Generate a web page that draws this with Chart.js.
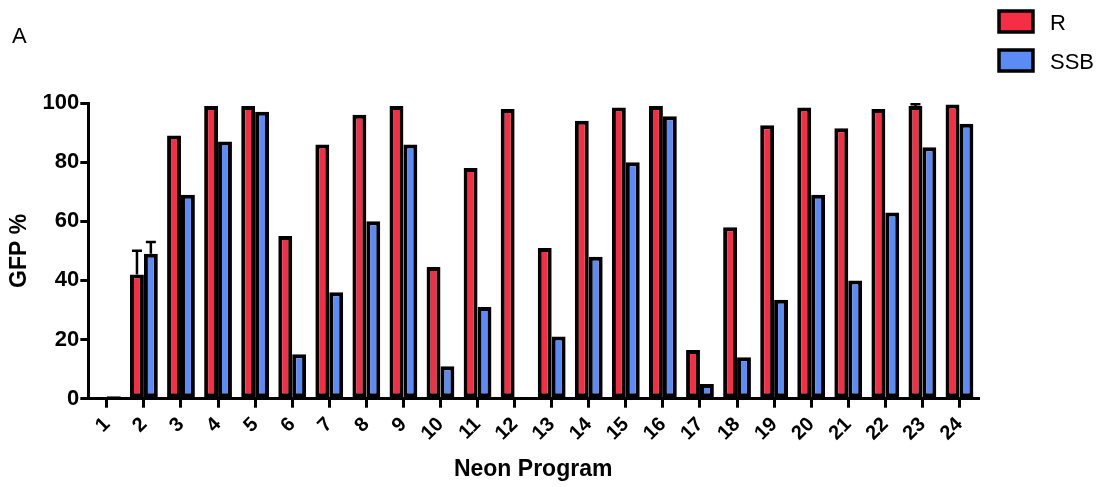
<!DOCTYPE html>
<html>
<head>
<meta charset="utf-8">
<script src="https://cdn.jsdelivr.net/npm/chart.js@4"></script>
<style>
  html, body { margin: 0; padding: 0; background: #fff; }
  #wrap { width: 1103px; height: 487px; }
</style>
</head>
<body>
<div id="wrap"><canvas id="gfpChart" width="1103" height="487"></canvas></div>
<script>
// Neon programs on the x axis
const programs = ['1','2','3','4','5','6','7','8','9','10','11','12',
                  '13','14','15','16','17','18','19','20','21','22','23','24'];

// GFP % per program
const rValues   = [0.4, 42, 89, 99, 99, 55, 86, 96, 99, 44.5, 78, 98,
                   51, 94, 98.5, 99, 16.5, 58, 92.5, 98.5, 91.5, 98, 99, 99.5];
const ssbValues = [0.8, 49, 69, 87, 97, 15, 36, 60, 86, 11, 31, 0,
                   21, 48, 80, 95.5, 5, 14, 33.5, 69, 40, 63, 85, 93];

// upper error (only a few are visible)
const rErrors   = [0, 8, 0, 0, 0, 0, 0, 0, 0, 0, 0, 0,
                   0, 0, 0, 0, 0, 0, 0, 0, 0, 0, 0.6, 0];
const ssbErrors = [0, 4, 0, 0, 0, 0, 0, 0, 0, 0, 0, 0,
                   0, 0, 0, 0, 0, 0, 0, 0, 0, 0, 0, 0];

const yTicks = [0, 20, 40, 60, 80, 100];

const fontFamily = "'Liberation Sans', Arial, Helvetica, sans-serif";

// draws the upper error bars with a cap
const errorBars = {
    id: 'errorBars',
    afterDatasetsDraw(chart) {
        const ctx = chart.ctx;
        const yScale = chart.scales.y;
        chart.data.datasets.forEach((ds, i) => {
            const meta = chart.getDatasetMeta(i);
            ds.errors.forEach((err, j) => {
                if (!err) return;
                const bar = meta.data[j];
                const yTop = yScale.getPixelForValue(ds.data[j] + err);
                ctx.save();
                ctx.strokeStyle = '#000';
                ctx.lineWidth = 2.5;
                ctx.beginPath();
                ctx.moveTo(bar.x, bar.y);
                ctx.lineTo(bar.x, yTop);
                ctx.moveTo(bar.x - 5, yTop);
                ctx.lineTo(bar.x + 5, yTop);
                ctx.stroke();
                ctx.restore();
            });
        });
    }
};

// panel letter and the legend in the top right corner
const panelDecor = {
    id: 'panelDecor',
    afterDraw(chart) {
        const ctx = chart.ctx;
        ctx.save();
        ctx.fillStyle = '#000';
        ctx.font = '22px ' + fontFamily;
        ctx.textBaseline = 'alphabetic';
        ctx.fillText('A', 12, 43);

        chart.data.datasets.forEach((ds, i) => {
            const top = 11 + i * 39;
            ctx.fillStyle = ds.backgroundColor;
            ctx.fillRect(999, top, 34, 21);
            ctx.lineWidth = 3.5;
            ctx.strokeStyle = '#000';
            ctx.strokeRect(999, top, 34, 21);
            ctx.fillStyle = '#000';
            ctx.font = '22px ' + fontFamily;
            ctx.fillText(ds.label, 1050, top + 19);
        });
        ctx.restore();
    }
};

const ctx = document.getElementById('gfpChart').getContext('2d');
new Chart(ctx, {
    type: 'bar',
    data: {
        labels: programs,
        datasets: [
            {
                label: 'R',
                data: rValues,
                errors: rErrors,
                backgroundColor: '#f72d45',
                borderColor: '#000',
                borderWidth: 4,
                borderSkipped: false
            },
            {
                label: 'SSB',
                data: ssbValues,
                errors: ssbErrors,
                backgroundColor: '#5b8bf5',
                borderColor: '#000',
                borderWidth: 4,
                borderSkipped: false
            }
        ]
    },
    options: {
        responsive: false,
        animation: false,
        datasets: {
            bar: { categoryPercentage: 0.75, barPercentage: 1.0 }
        },
        layout: {
            padding: { top: 103, right: 125, bottom: 4, left: 6 }
        },
        plugins: {
            legend: { display: false },
            tooltip: { enabled: false }
        },
        scales: {
            x: {
                grid: {
                    display: true,
                    drawOnChartArea: false,
                    offset: false,
                    color: '#000',
                    lineWidth: 3,
                    tickLength: 9
                },
                border: { display: true, color: '#000', width: 3 },
                ticks: {
                    color: '#000',
                    font: { family: fontFamily, size: 20, weight: 'bold' },
                    minRotation: 45,
                    maxRotation: 45,
                    padding: 5
                },
                title: {
                    display: true,
                    text: 'Neon Program',
                    color: '#000',
                    font: { family: fontFamily, size: 23, weight: 'bold' },
                    padding: { top: 5, bottom: 0 }
                }
            },
            y: {
                min: 0,
                max: 100,
                afterBuildTicks(axis) {
                    axis.ticks = yTicks.map(v => ({ value: v }));
                },
                grid: {
                    display: true,
                    drawOnChartArea: false,
                    color: '#000',
                    lineWidth: 3,
                    tickLength: 8
                },
                border: { display: true, color: '#000', width: 3 },
                ticks: {
                    color: '#000',
                    font: { family: fontFamily, size: 22, weight: 'bold' },
                    padding: 1
                },
                title: {
                    display: true,
                    text: 'GFP %',
                    color: '#000',
                    font: { family: fontFamily, size: 23, weight: 'bold' },
                    padding: { top: 0, bottom: 8 }
                }
            }
        }
    },
    plugins: [errorBars, panelDecor]
});
</script>
</body>
</html>
